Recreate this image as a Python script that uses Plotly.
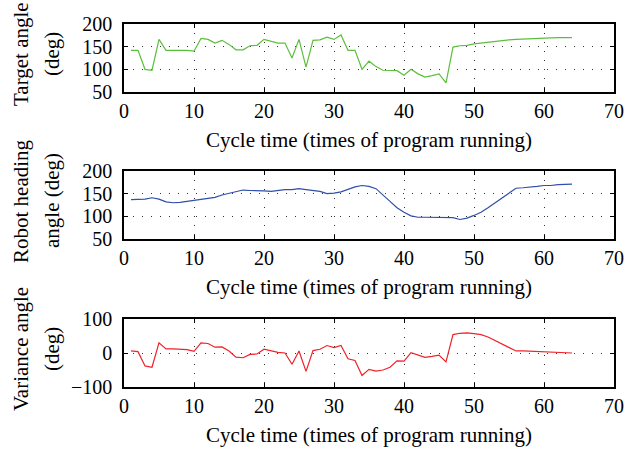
import plotly.graph_objects as go

cycles = list(range(1, 65))
target = [142, 142, 100, 98, 166, 142, 142, 142, 142, 140, 168, 166, 158, 164, 155, 143,
          143, 152, 153, 166, 162, 158, 158, 125, 166, 105, 164, 165, 171, 166, 176, 142,
          142, 100, 118, 106, 98, 97, 97, 87, 100, 90, 83, 86, 90, 70, 149, 152, 153, 156,
          158, 160, 162, 164, 165, 166, 167, 168, 168.5, 169, 169.5, 170, 170, 170]
heading = [137, 137, 138, 141, 138, 132, 130, 131, 133, 135, 138, 139, 142, 147, 151, 155,
           158, 157, 157, 156, 155, 157, 159, 159, 161, 159, 157, 155, 150, 151, 154, 159,
           165, 168, 166, 161, 146, 133, 119, 109, 101, 98, 98, 98, 98, 98, 97, 93, 96, 102,
           109, 119, 130, 141, 151, 162, 163, 164, 166, 168, 168, 170, 171, 171]
variance = [6, 4, -38, -42, 30, 12, 12, 11, 10, 5, 30, 28, 17, 18, 6, -12, -14, -4, -3, 11,
            6, 2, 0, -33, 6, -54, 7, 11, 22, 16, 22, -17, -22, -66, -48, -53, -50, -42, -23,
            -24, 1, -6, -13, -10, -6, -26, 54, 58, 59, 57, 54, 47, 37, 27, 17, 6, 6, 5, 3, 3,
            2, 2, 0, 0]

x_ticks = [0, 10, 20, 30, 40, 50, 60, 70]
y_ticks_angle = [50, 100, 150, 200]
y_ticks_var = [-100, 0, 100]
x_title = "Cycle time (times of program running)"
y_titles = [("Target angle", "(deg)"), ("Robot heading", "angle (deg)"), ("Variance angle", "(deg)")]
colors = ["#5cbf3c", "#2f4fa8", "#ee2229"]
series = [target, heading, variance]

FONT = "Liberation Serif"
W, H = 625, 450
xl, xr = 124, 614
panels = [(24, 92), (171, 239), (319, 387)]
yranges = [(50, 200), (50, 200), (-100, 100)]
ytickvals = [y_ticks_angle, y_ticks_angle, y_ticks_var]

fig = go.Figure()
annotations = []
for i in range(3):
    xa = "x" if i == 0 else f"x{i+1}"
    ya = "y" if i == 0 else f"y{i+1}"
    fig.add_trace(go.Scatter(x=cycles, y=series[i], mode="lines",
                             line=dict(color=colors[i], width=1.2),
                             xaxis=xa, yaxis=ya, showlegend=False))
    top, bot = panels[i]
    dom_y = [1 - bot / H, 1 - top / H]
    axcommon = dict(showline=True, linecolor="black", linewidth=1.5, mirror="ticks",
                    ticks="inside", ticklen=4, tickcolor="black",
                    showgrid=True, gridcolor="#333333", griddash="1px,8px", gridwidth=1,
                    zeroline=False, automargin=False,
                    tickfont=dict(family=FONT, size=20, color="black"))
    fig.layout[("xaxis" if i == 0 else f"xaxis{i+1}")] = dict(
        domain=[xl / W, xr / W], range=[0, 70], tickvals=x_ticks, anchor=ya, **axcommon)
    fig.layout[("yaxis" if i == 0 else f"yaxis{i+1}")] = dict(
        domain=dom_y, range=list(yranges[i]), tickvals=ytickvals[i], anchor=xa,
        ticklabelstandoff=6, **axcommon)
    annotations.append(dict(text=x_title, xref="paper", yref="paper",
                            x=(xl + xr) / 2 / W, y=1 - (bot + 48) / H,
                            showarrow=False, xanchor="center", yanchor="middle",
                            font=dict(family=FONT, size=21, color="black")))
    for j, xc in enumerate([21, 52]):
        annotations.append(dict(text=y_titles[i][j], xref="paper", yref="paper",
                                x=xc / W, y=1 - ((top + bot) / 2 - 4) / H, textangle=-90,
                                showarrow=False, xanchor="center", yanchor="middle",
                                font=dict(family=FONT, size=21, color="black")))

fig.update_layout(width=W, height=H, margin=dict(l=0, r=0, t=0, b=0, autoexpand=False),
                  paper_bgcolor="white", plot_bgcolor="white",
                  annotations=annotations)
fig.write_html("out.html")
